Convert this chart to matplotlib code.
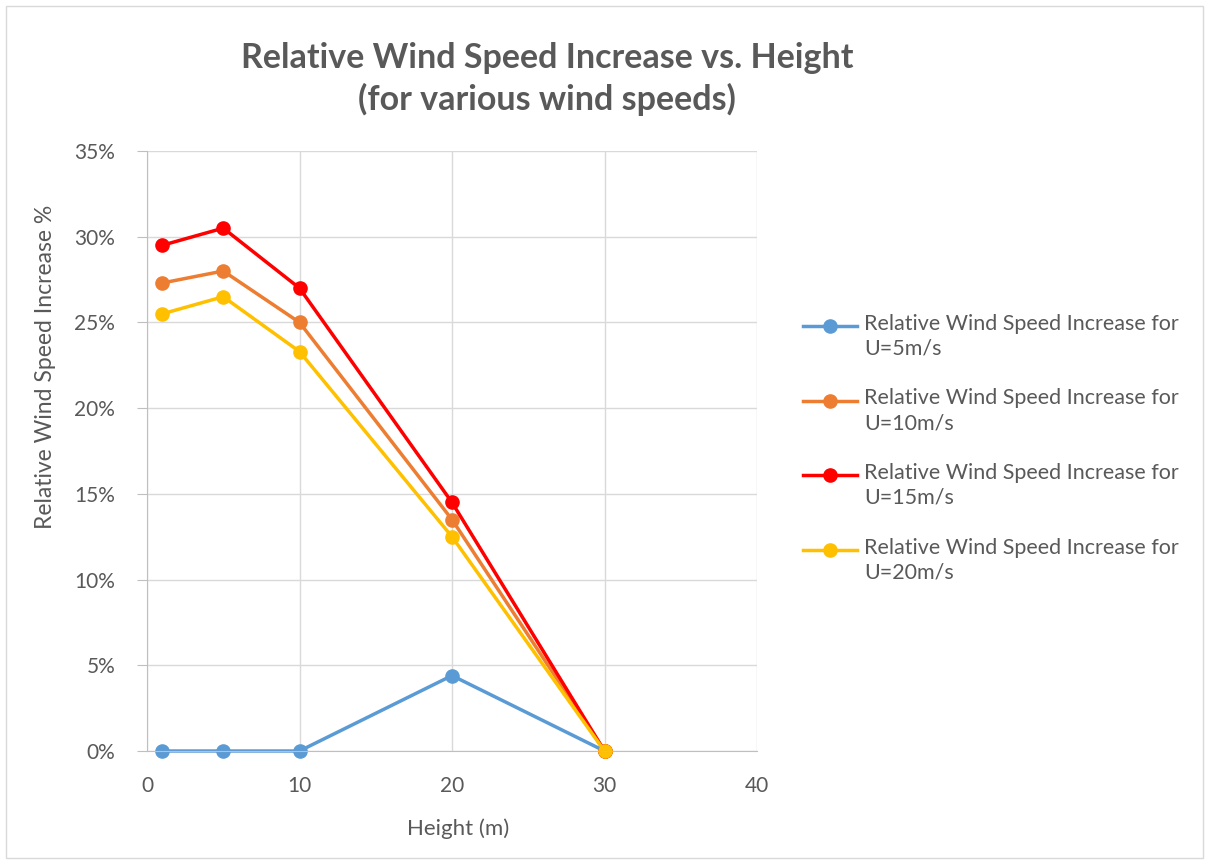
import matplotlib.pyplot as plt
from matplotlib.ticker import PercentFormatter
from matplotlib.patches import Rectangle
from matplotlib.lines import Line2D

plt.rcParams['font.family'] = ['Lato', 'DejaVu Sans']

heights = [1, 5, 10, 20, 30]
u5 = [0.0, 0.0, 0.0, 4.4, 0.0]
u10 = [27.3, 28.0, 25.0, 13.5, 0.0]
u15 = [29.5, 30.5, 27.0, 14.5, 0.0]
u20 = [25.5, 26.5, 23.3, 12.5, 0.0]
labels = ['Relative Wind Speed Increase for\nU=5m/s',
          'Relative Wind Speed Increase for\nU=10m/s',
          'Relative Wind Speed Increase for\nU=15m/s',
          'Relative Wind Speed Increase for\nU=20m/s']
colors = ['#5B9BD5', '#ED7D31', '#FF0000', '#FFC000']

W, H = 1209, 865
fig = plt.figure(figsize=(W / 100, H / 100), dpi=100)
ax = fig.add_axes([147 / W, 1 - 751 / H, 610 / W, 600 / H])

for ys, lab, c in zip([u5, u10, u15, u20], labels, colors):
    ax.plot(heights, ys, color=c, lw=2.5, marker='o', ms=9.5, label=lab, clip_on=False)

ax.set_xlim(0, 40)
ax.set_ylim(0, 35)
ax.set_xticks([0, 10, 20, 30, 40])
ax.set_yticks(range(0, 36, 5))
ax.yaxis.set_major_formatter(PercentFormatter(decimals=0))
ax.grid(True, color='#D9D9D9', lw=1)
ax.set_axisbelow(True)
for s in ['top', 'right']:
    ax.spines[s].set_visible(False)
for s in ['left', 'bottom']:
    ax.spines[s].set_color('#BFBFBF')
ax.tick_params(colors='#BFBFBF', labelcolor='#595959', labelsize=15)
ax.tick_params(axis='y', length=7, pad=16)
ax.tick_params(axis='x', length=0, pad=18)

fig.text(458 / W, 1 - 829 / H, 'Height (m)', ha='center', va='center', fontsize=16, color='#595959')
fig.text(46 / W, 1 - 367 / H, 'Relative Wind Speed Increase %', ha='center', va='center',
         rotation=90, fontsize=16.5, color='#595959')

fig.text(547 / W, 1 - 79 / H, 'Relative Wind Speed Increase vs. Height\n(for various wind speeds)',
         ha='center', va='center', fontsize=24.5, fontweight='bold', color='#595959',
         linespacing=1.35)

# legend drawn by hand so the key sits on the first text line, like Excel
for i, (lab, c) in enumerate(zip(labels, colors)):
    y = 326 + i * 74.5
    fig.add_artist(Line2D([803 / W, 857 / W], [1 - y / H] * 2, transform=fig.transFigure,
                          color=c, lw=2.5))
    fig.add_artist(Line2D([830 / W], [1 - y / H], transform=fig.transFigure,
                          color=c, marker='o', ms=9.5))
    fig.text(864 / W, 1 - (y - 12) / H, lab, ha='left', va='top', fontsize=15.5,
             color='#595959', linespacing=1.3)

fig.patches.append(Rectangle((0.005, 0.008), 0.99, 0.985, transform=fig.transFigure,
                             fill=False, edgecolor='#D9D9D9', lw=1))

fig.savefig('out.png', dpi=100)
